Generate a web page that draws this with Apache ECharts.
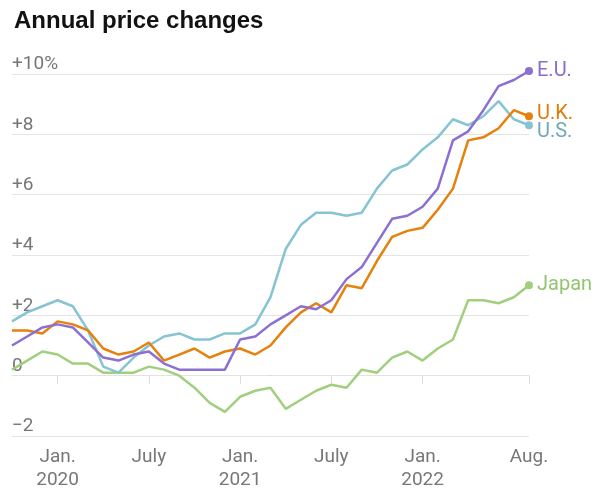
<!DOCTYPE html>
<html>
<head>
<meta charset="utf-8">
<script src="https://cdn.jsdelivr.net/npm/echarts@6/dist/echarts.min.js"></script>
<style>
html,body{margin:0;padding:0;background:#fff;}
#chart{width:600px;height:499px;}
</style>
</head>
<body>
<div id="chart"></div>
<script>
const months = ["2019-10","2019-11","2019-12",
  "2020-01","2020-02","2020-03","2020-04","2020-05","2020-06","2020-07","2020-08","2020-09","2020-10","2020-11","2020-12",
  "2021-01","2021-02","2021-03","2021-04","2021-05","2021-06","2021-07","2021-08","2021-09","2021-10","2021-11","2021-12",
  "2022-01","2022-02","2022-03","2022-04","2022-05","2022-06","2022-07","2022-08"];
const eu = [1.0,1.3,1.6, 1.7,1.6,1.1,0.6,0.5,0.7,0.8,0.4,0.2,0.2,0.2,0.2, 1.2,1.3,1.7,2.0,2.3,2.2,2.5,3.2,3.6,4.4,5.2,5.3, 5.6,6.2,7.8,8.1,8.8,9.6,9.8,10.1];
const uk = [1.5,1.5,1.4, 1.8,1.7,1.5,0.9,0.7,0.8,1.1,0.5,0.7,0.9,0.6,0.8, 0.9,0.7,1.0,1.6,2.1,2.4,2.1,3.0,2.9,3.8,4.6,4.8, 4.9,5.5,6.2,7.8,7.9,8.2,8.8,8.6];
const us = [1.8,2.1,2.3, 2.5,2.3,1.5,0.3,0.1,0.6,1.0,1.3,1.4,1.2,1.2,1.4, 1.4,1.7,2.6,4.2,5.0,5.4,5.4,5.3,5.4,6.2,6.8,7.0, 7.5,7.9,8.5,8.3,8.6,9.1,8.5,8.3];
const japan = [0.2,0.5,0.8, 0.7,0.4,0.4,0.1,0.1,0.1,0.3,0.2,0.0,-0.4,-0.9,-1.2, -0.7,-0.5,-0.4,-1.1,-0.8,-0.5,-0.3,-0.4,0.2,0.1,0.6,0.8, 0.5,0.9,1.2,2.5,2.5,2.4,2.6,3.0];
const tickMonths = ["2020-01","2020-07","2021-01","2021-07","2022-01","2022-08"];
const tickLabels = ["Jan.\n2020","July","Jan.\n2021","July","Jan.\n2022","Aug."];
const yTicks = [-2,0,2,4,6,8,10];

const FONT = "Roboto";
const lastIdx = months.length - 1;
function tickShown(index, value){ return tickMonths.indexOf(months[index]) >= 0; }

function mkSeries(name, data, color, labelColor, offsetY, z){
  return {
    name: name, type: 'line', data: data, z: z,
    clip: false, smooth: false,
    showSymbol: true, showAllSymbol: true,
    symbol: function(v, p){ return p.dataIndex === lastIdx ? 'circle' : 'none'; },
    symbolSize: 8,
    itemStyle: {color: color},
    lineStyle: {color: color, width: 2.5},
    emphasis: {disabled: true},
    endLabel: {
      show: true, formatter: name, color: labelColor,
      fontFamily: FONT, fontSize: 20, distance: 8, offset: [0, offsetY]
    }
  };
}

const chart = echarts.init(document.getElementById('chart'), null, {renderer: 'canvas'});
chart.setOption({
  animation: false,
  backgroundColor: '#fff',
  title: {
    text: 'Annual price changes', left: 9, top: 4,
    textStyle: {fontFamily: 'Liberation Sans', fontWeight: 'bold', fontSize: 24, color: '#121212'}
  },
  grid: {left: 12, right: 71, top: 74, bottom: 63, containLabel: false},
  xAxis: {
    type: 'category', data: months, boundaryGap: false,
    axisLine: {show: true, lineStyle: {color: '#e2e2e2', width: 1}},
    axisTick: {show: true, interval: tickShown, length: 8, lineStyle: {color: '#dcdcdc'}},
    axisLabel: {
      interval: tickShown, margin: 10, lineHeight: 23,
      fontFamily: FONT, fontSize: 19, color: '#777',
      formatter: function(v){ const i = tickMonths.indexOf(v); return i >= 0 ? tickLabels[i] : ''; }
    },
    splitLine: {show: false}
  },
  yAxis: {
    type: 'value', min: -2, max: 10, interval: 2,
    axisLine: {show: false}, axisTick: {show: false},
    splitLine: {show: true, lineStyle: {color: ['#e4e4e4','#666666','#e4e4e4','#e4e4e4','#e4e4e4','#e4e4e4','#e4e4e4'], width: 1}},
    axisLabel: {
      inside: true, margin: 0, verticalAlign: 'bottom',
      fontFamily: FONT, fontSize: 19, color: '#777',
      formatter: function(v){
        if (v === 10) return '+10%';
        if (v > 0) return '+' + v;
        if (v < 0) return '\u2212' + Math.abs(v);
        return '0';
      }
    }
  },
  series: [
    mkSeries('Japan', japan, '#a1cf7e', '#93c470', 0, 2),
    mkSeries('U.S.', us, '#86c4d2', '#6fa9b8', 7, 3),
    mkSeries('U.K.', uk, '#e5810c', '#e07c0c', -2, 4),
    mkSeries('E.U.', eu, '#8c6fd2', '#8a6cd0', 0, 5)
  ]
});
</script>
</body>
</html>
